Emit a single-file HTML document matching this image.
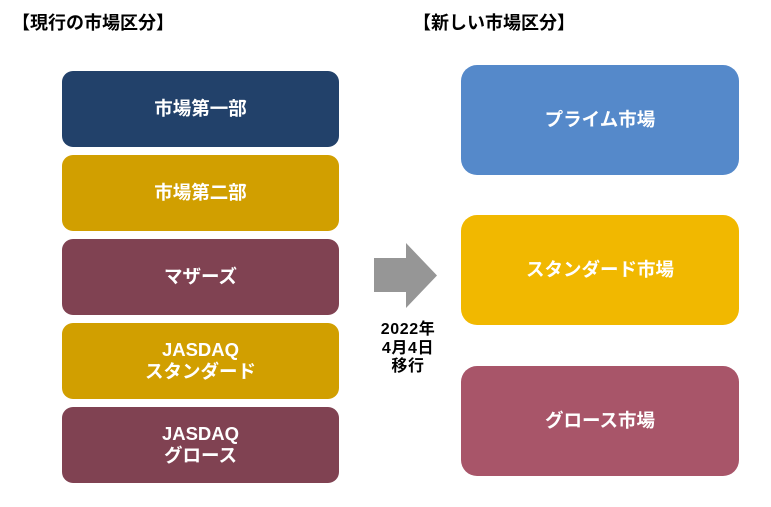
<!DOCTYPE html>
<html><head><meta charset="utf-8"><style>
html,body{margin:0;padding:0;background:#fff;}
body{width:771px;height:507px;position:relative;overflow:hidden;font-family:"Liberation Sans","Noto Sans CJK JP",sans-serif;font-weight:bold;}
.t{position:absolute;font-size:18px;line-height:18px;color:#000;white-space:nowrap;}
.b{position:absolute;display:flex;align-items:center;justify-content:center;text-align:center;color:#fff;font-size:18.5px;line-height:22px;white-space:nowrap;}
.l{left:62px;width:277px;height:76px;border-radius:11px;}
.r{left:461px;width:278px;height:110px;border-radius:16px;}
.d{position:absolute;left:368px;width:80px;top:321px;text-align:center;font-size:16px;line-height:18.5px;color:#000;letter-spacing:0.6px;}
</style></head><body>
<div class="t" style="left:12px;top:14px;">【現行の市場区分】</div>
<div class="t" style="left:413px;top:14px;">【新しい市場区分】</div>

<div class="b l" style="top:71px;background:#22416A;">市場第一部</div>
<div class="b l" style="top:155px;background:#D19F00;">市場第二部</div>
<div class="b l" style="top:239px;background:#804252;">マザーズ</div>
<div class="b l" style="top:323px;background:#D19F00;">JASDAQ<br>スタンダード</div>
<div class="b l" style="top:407px;background:#804252;">JASDAQ<br>グロース</div>

<div class="b r" style="top:65px;background:#5589CA;">プライム市場</div>
<div class="b r" style="top:215px;background:#F1B800;">スタンダード市場</div>
<div class="b r" style="top:366px;background:#A85569;">グロース市場</div>

<svg style="position:absolute;left:0;top:0" width="771" height="507">
<polygon points="374,258 406,258 406,243 437,275.5 406,308 406,292 374,292" fill="#969696"/>
</svg>
<div class="d">2022年<br>4月4日<br>移行</div>
</body></html>
